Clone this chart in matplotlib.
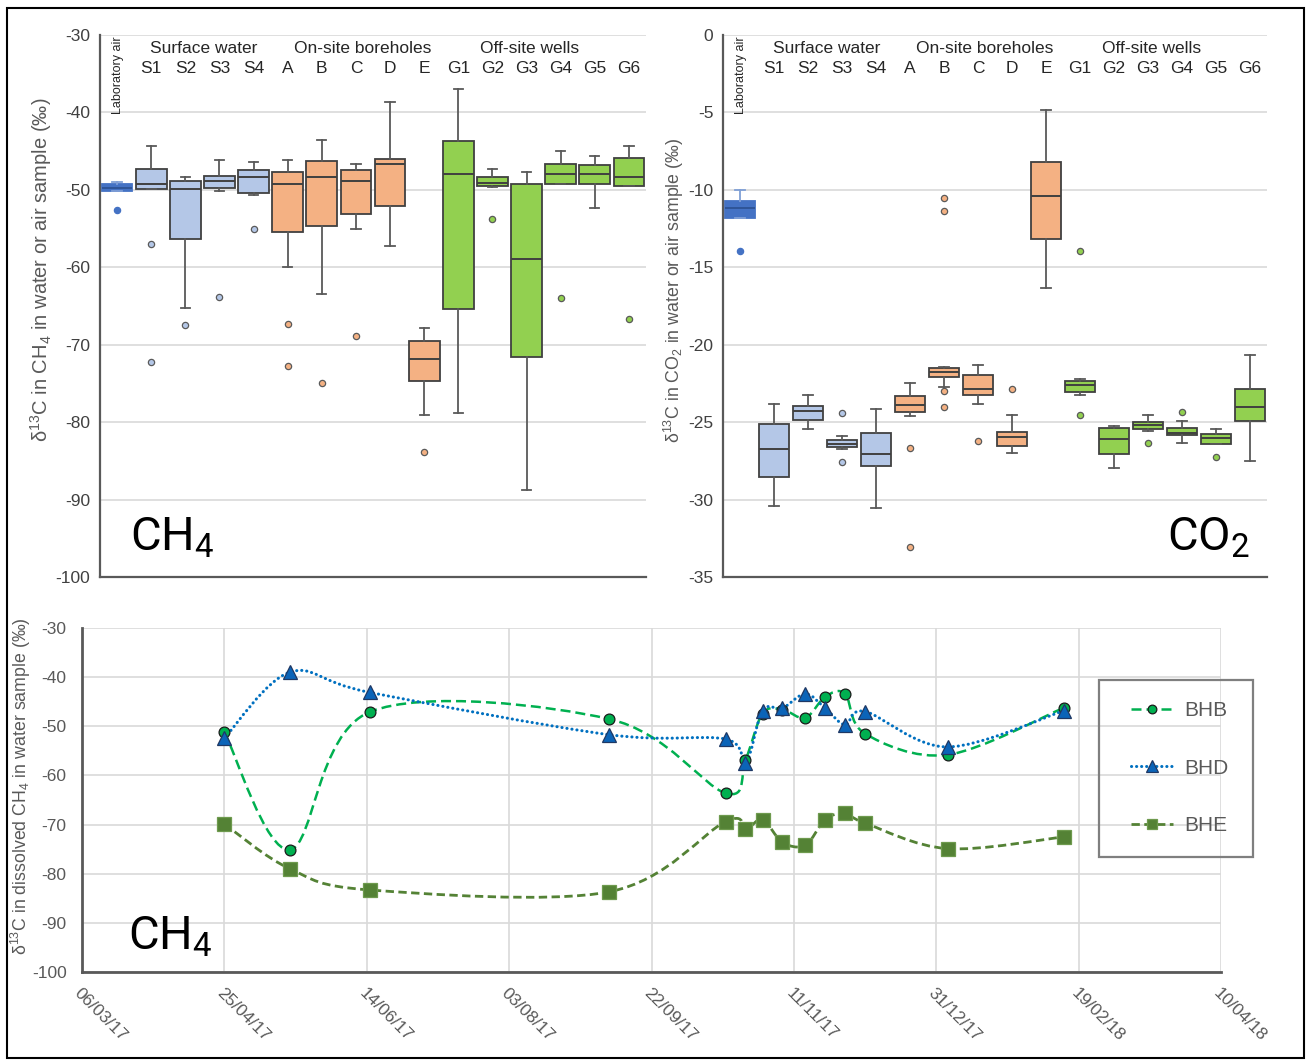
import datetime as dt
import numpy as np
import matplotlib
matplotlib.use('Agg')
import matplotlib.pyplot as plt
import matplotlib.dates as mdates
import matplotlib.transforms as mtransforms
from matplotlib.path import Path
from matplotlib.patches import PathPatch, Rectangle
from matplotlib.lines import Line2D
from matplotlib import font_manager

# ---------------- data ----------------
categories = ['Laboratory air', 'S1', 'S2', 'S3', 'S4', 'A', 'B', 'C', 'D', 'E',
              'G1', 'G2', 'G3', 'G4', 'G5', 'G6']
group_of = ['lab'] + ['surf'] * 4 + ['on'] * 5 + ['off'] * 6
group_names = ['Surface water', 'On-site boreholes', 'Off-site wells']

# CH4 box statistics (per category)
ch4_lo = [-50.1, -49.9, -65.3, -50.2, -50.6, -59.9, -63.4, -55.0, -57.3, -79.1,
          -78.8, -49.6, -88.8, -49.3, -52.4, -49.5]
ch4_q1 = [-50.1, -49.9, -56.3, -49.8, -50.4, -55.5, -54.7, -53.1, -52.1, -74.7,
          -65.4, -49.5, -71.6, -49.3, -49.2, -49.5]
ch4_med = [-49.7, -49.2, -49.9, -48.9, -48.3, -49.3, -48.3, -48.8, -46.7, -71.9,
           -47.9, -49.1, -58.9, -48.0, -47.9, -48.3]
ch4_q3 = [-49.3, -47.3, -48.9, -48.2, -47.4, -47.7, -46.3, -47.4, -46.0, -69.5,
          -43.7, -48.4, -49.2, -46.6, -46.8, -45.9]
ch4_hi = [-49.0, -44.3, -48.4, -46.2, -46.4, -46.2, -43.5, -46.6, -38.7, -67.9,
          -37.0, -47.3, -47.7, -45.0, -45.6, -44.3]
ch4_out = [[-52.6], [-57.0, -72.2], [-67.5], [-63.9], [-55.0], [-67.3, -72.7],
           [-75.0], [-68.9], [], [-83.9], [], [-53.7], [], [-64.0], [], [-66.7]]

# CO2 box statistics (per category)
co2_lo = [-11.84, -30.43, -25.43, -26.75, -30.56, -24.63, -22.74, -23.81, -27.00,
          -16.32, -23.25, -27.95, -25.60, -26.36, -26.44, -27.54]
co2_q1 = [-11.82, -28.53, -24.85, -26.59, -27.82, -24.33, -22.07, -23.25, -26.53,
          -13.20, -23.04, -27.03, -25.43, -25.82, -26.38, -24.91]
co2_med = [-11.19, -26.72, -24.27, -26.42, -27.03, -23.90, -21.79, -22.87, -25.99,
           -10.41, -22.59, -26.08, -25.19, -25.71, -26.01, -24.05]
co2_q3 = [-10.74, -25.15, -23.97, -26.14, -25.71, -23.30, -21.49, -21.98, -25.63,
          -8.20, -22.37, -25.37, -25.02, -25.37, -25.78, -22.87]
co2_hi = [-10.04, -23.81, -23.25, -25.88, -24.12, -22.50, -21.42, -21.29, -24.57,
          -4.85, -22.24, -25.22, -24.57, -24.91, -25.43, -20.69]
co2_out = [[-13.94], [], [], [-24.40, -27.59], [], [-26.66, -33.04],
           [-23.02, -24.05, -10.54, -11.39], [-26.23], [-22.89], [],
           [-24.55, -13.94], [], [-26.36], [-24.33], [-27.24], []]

# time series (dissolved CH4)
sample_dates = ['2017-04-25', '2017-05-18', '2017-06-15', '2017-09-07', '2017-10-18',
                '2017-10-25', '2017-10-31', '2017-11-07', '2017-11-15', '2017-11-22',
                '2017-11-29', '2017-12-06', '2018-01-04', '2018-02-14']
bhb = [-51.2, -75.1, -47.1, -48.5, -63.6, -56.8, -47.4, -46.6, -48.3, -44.0,
       -43.4, -51.5, -55.8, -46.2]
bhd = [-52.4, -39.0, -43.1, -51.7, -52.6, -57.5, -46.8, -46.3, -43.4, -46.3,
       -49.7, -47.0, -54.2, -46.8]
bhe = [-69.9, -79.0, -83.3, -83.7, -69.4, -70.9, -69.0, -73.6, -74.2, -69.0,
       -67.7, -69.7, -74.9, -72.5]
date_ticks = ['06/03/17', '25/04/17', '14/06/17', '03/08/17', '22/09/17',
              '11/11/17', '31/12/17', '19/02/18', '10/04/18']

# ---------------- style ----------------
available = {f.name for f in font_manager.fontManager.ttflist}
BASE = 'Liberation Sans' if 'Liberation Sans' in available else 'DejaVu Sans'
BIG = 'Roboto' if 'Roboto' in available else BASE
plt.rcParams['font.family'] = [BASE, 'DejaVu Sans']
plt.rcParams['mathtext.default'] = 'regular'
plt.rcParams['axes.unicode_minus'] = False

fill = {'lab': '#4472C4', 'surf': '#B4C7E7', 'on': '#F4B183', 'off': '#92D050'}
GRID = '#D9D9D9'
SPINE = '#595959'
TXT = '#262626'
GRAY = '#595959'

W, H = 1311, 1062
fig = plt.figure(figsize=(W / 100, H / 100), dpi=100)


def fbox(x0, y0, x1, y1):
    return [x0 / W, 1 - y1 / H, (x1 - x0) / W, (y1 - y0) / H]


ax1 = fig.add_axes(fbox(100, 35, 646, 577))
ax2 = fig.add_axes(fbox(723, 35, 1267, 577))
ax3 = fig.add_axes(fbox(82, 628, 1221, 972))


def box_panel(ax, lo, q1, med, q3, hi, out, ylim, yticks, ylabel, lab_size, lab_xy,
              big, big_x, big_ha):
    stats = [dict(label=c, whislo=lo[i], q1=q1[i], med=med[i], q3=q3[i],
                  whishi=hi[i], fliers=out[i]) for i, c in enumerate(categories)]
    res = ax.bxp(stats, positions=list(range(len(categories))), widths=0.9,
                 patch_artist=True, manage_ticks=False, capwidths=0.27,
                 boxprops=dict(edgecolor='#404040', linewidth=1.3),
                 medianprops=dict(color='#404040', linewidth=1.4),
                 whiskerprops=dict(color=SPINE, linewidth=1.3),
                 capprops=dict(color=SPINE, linewidth=1.3),
                 flierprops=dict(marker='o', markersize=4.5, markeredgewidth=0.9))
    for i, g in enumerate(group_of):
        res['boxes'][i].set_facecolor(fill[g])
        res['fliers'][i].set_markerfacecolor(fill[g])
        if g == 'lab':
            res['boxes'][i].set_edgecolor(fill[g])
            res['fliers'][i].set_markeredgecolor(fill[g])
            res['medians'][i].set_color('#2F5597')
            for k in (2 * i, 2 * i + 1):
                res['whiskers'][k].set_color('#7F9FD6')
                res['caps'][k].set_color('#7F9FD6')
        else:
            res['fliers'][i].set_markeredgecolor('#5a5a5a')
    ax.set_xlim(-0.5, len(categories) - 0.5)
    ax.set_ylim(*ylim)
    ax.set_yticks(yticks)
    ax.set_xticks([])
    ax.yaxis.grid(True, color=GRID, linewidth=1.2)
    ax.set_axisbelow(True)
    ax.tick_params(axis='y', length=0, labelsize=12.5, colors='#404040', pad=7)
    for s in ('top', 'right'):
        ax.spines[s].set_visible(False)
    for s in ('left', 'bottom'):
        ax.spines[s].set_color(SPINE)
        ax.spines[s].set_linewidth(1.6)
    ax.set_ylabel(ylabel, fontsize=lab_size, color=GRAY)
    ax.yaxis.set_label_coords(*lab_xy)
    tr = mtransforms.blended_transform_factory(ax.transData, ax.transAxes)
    for i, c in enumerate(categories):
        if i == 0:
            ax.text(i + 0.03, 0.997, c, transform=tr, rotation=90, ha='center', va='top',
                    fontsize=9, color=TXT)
        else:
            ax.text(i, 0.939, c, transform=tr, ha='center', va='center',
                    fontsize=12.5, color=TXT)
    for name, xc in zip(group_names, (2.55, 7.2, 12.1)):
        ax.text(xc, 0.976, name, transform=tr, ha='center', va='center',
                fontsize=12.5, color=TXT)
    ax.text(big_x, 0.048, big, transform=ax.transAxes, ha=big_ha, va='baseline',
            fontsize=34, family=[BIG, BASE], color='black')


box_panel(ax1, ch4_lo, ch4_q1, ch4_med, ch4_q3, ch4_hi, ch4_out,
          (-100, -30), list(range(-30, -101, -10)),
          'δ$^{13}$C in CH$_4$ in water or air sample (‰)', 14.5, (-0.085, 0.566),
          'CH$_4$', 0.055, 'left')
box_panel(ax2, co2_lo, co2_q1, co2_med, co2_q3, co2_hi, co2_out,
          (-35, 0), list(range(0, -36, -5)),
          'δ$^{13}$C in CO$_2$ in water or air sample (‰)', 12.8, (-0.068, 0.528),
          'CO$_2$', 0.969, 'right')

# ---------------- time series ----------------
xd = mdates.date2num([dt.datetime.strptime(d, '%Y-%m-%d') for d in sample_dates])
tick_dates = [dt.datetime.strptime(t, '%d/%m/%y') for t in date_ticks]
tx = mdates.date2num(tick_dates)


def smooth_path(x, y):
    pts = np.column_stack([x, y]).astype(float)
    n = len(pts)
    verts = [pts[0]]
    codes = [Path.MOVETO]
    for i in range(n - 1):
        p0 = pts[i - 1] if i > 0 else pts[i]
        p1, p2 = pts[i], pts[i + 1]
        p3 = pts[i + 2] if i + 2 < n else pts[i + 1]
        verts += [p1 + (p2 - p0) / 6.0, p2 - (p3 - p1) / 6.0, p2]
        codes += [Path.CURVE4] * 3
    return Path(verts, codes)


series = [
    ('BHB', bhb, '#00B050', (0, (4.0, 2.0)), 1.8, 'o', 7.8, '#00B050', '#1a1a1a', 'butt'),
    ('BHD', bhd, '#0070C0', (0, (0.05, 1.6)), 2.2, '^', 10.5, '#0B64B8', '#1F3864', 'round'),
    ('BHE', bhe, '#548235', (0, (3.0, 1.6)), 2.0, 's', 9.5, '#548235', '#6E9A4E', 'butt'),
]
handles = []
for name, vals, col, ls, lw, mk, ms, mfc, mec, cap in series:
    patch = PathPatch(smooth_path(xd, vals), fill=False, edgecolor=col, linewidth=lw,
                      linestyle=ls, capstyle=cap, transform=ax3.transData, zorder=3)
    ax3.add_patch(patch)
    ax3.plot(xd, vals, linestyle='none', marker=mk, markersize=ms, markerfacecolor=mfc,
             markeredgecolor=mec, markeredgewidth=0.9, zorder=4)
    h = Line2D([], [], color=col, linewidth=lw, linestyle=ls, marker=mk,
               markersize=ms * 0.8, markerfacecolor=mfc, markeredgecolor=mec,
               markeredgewidth=0.9, dash_capstyle=cap, solid_capstyle=cap)
    handles.append(h)

ax3.set_xlim(tx[0], tx[-1])
ax3.set_ylim(-100, -30)
ax3.set_yticks(list(range(-30, -101, -10)))
ax3.set_xticks(tx)
ax3.set_xticklabels(date_ticks, rotation=-45, ha='left', va='top',
                    rotation_mode='anchor')
for lbl in ax3.get_xticklabels():
    lbl.set_transform(lbl.get_transform() + mtransforms.ScaledTranslation(
        4 / 100, 0, fig.dpi_scale_trans))
ax3.grid(True, color=GRID, linewidth=1.2)
ax3.set_axisbelow(True)
ax3.tick_params(axis='y', length=0, labelsize=12.5, colors=GRAY, pad=11)
ax3.tick_params(axis='x', length=0, labelsize=12.5, colors=GRAY, pad=10)
for s in ('top', 'right'):
    ax3.spines[s].set_visible(False)
for s in ('left', 'bottom'):
    ax3.spines[s].set_color(SPINE)
    ax3.spines[s].set_linewidth(2.0)
ax3.set_ylabel('δ$^{13}$C in dissolved CH$_4$ in water sample (‰)', fontsize=12.8,
               color=GRAY)
ax3.yaxis.set_label_coords(-0.043, 0.54)
ax3.text(0.040, 0.064, 'CH$_4$', transform=ax3.transAxes, ha='left', va='baseline',
         fontsize=34, family=[BIG, BASE], color='black')

# legend with its own frame
fig.add_artist(Rectangle((1099 / W, 1 - 857 / H), 154 / W, 177 / H, transform=fig.transFigure,
                         fill=False, edgecolor='#7F7F7F', linewidth=1.6))
fig.legend(handles, ['BHB', 'BHD', 'BHE'], loc='center',
           bbox_to_anchor=(1180 / W, 1 - 768 / H), bbox_transform=fig.transFigure,
           frameon=False, labelspacing=1.85, handlelength=2.0, handletextpad=0.55,
           fontsize=15, labelcolor=GRAY)

# outer frame
fig.add_artist(Rectangle((7 / W, 1 - 1058 / H), 1297 / W, 1050 / H, transform=fig.transFigure,
                         fill=False, edgecolor='black', linewidth=1.5))

fig.savefig('out.png', dpi=100)
